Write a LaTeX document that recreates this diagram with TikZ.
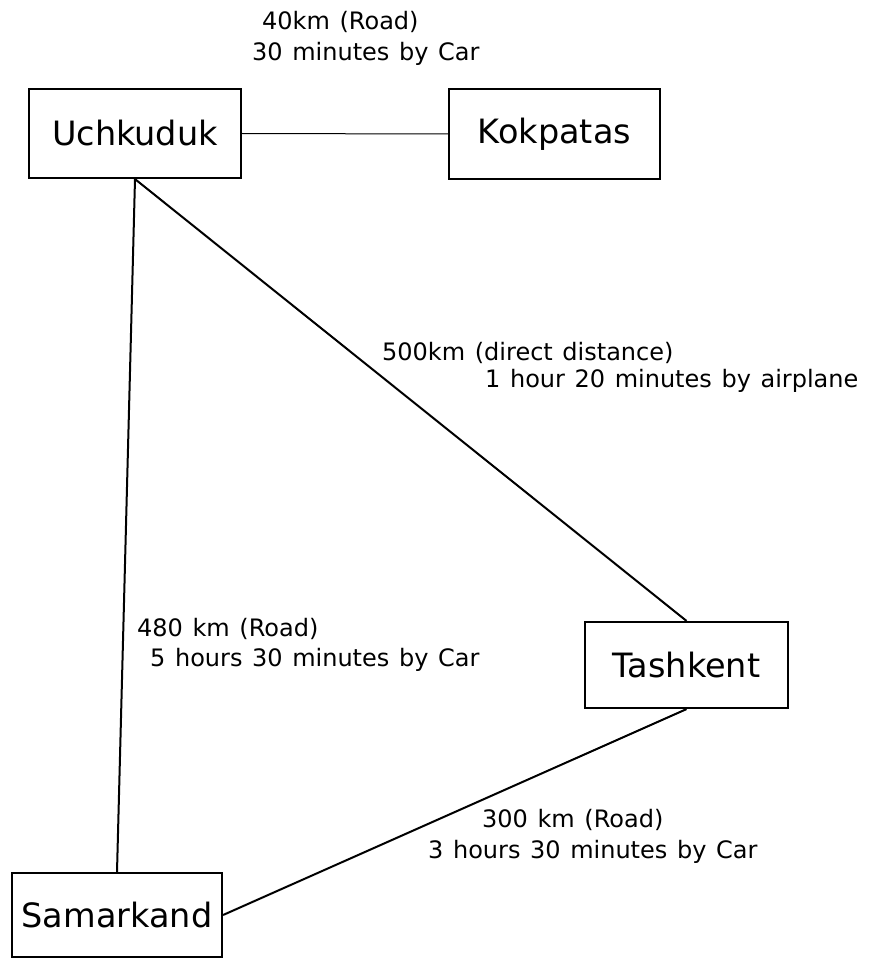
\documentclass[tikz,border=0pt]{standalone}
\usepackage{fontspec}
\setmainfont{DejaVu Sans}
\newcommand\distfont{\fontsize{24}{29}\selectfont\spaceskip=.4em plus .1em\relax}
\tikzset{
  town/.style={draw,line width=2.2pt,inner sep=0pt,font=\fontsize{33.5}{40}\selectfont},
  road/.style={line width=2pt},
  dist/.style={anchor=west,inner sep=0pt,font=\distfont},
}
\begin{document}
\begin{tikzpicture}[x=1pt,y=-1pt]
  \useasboundingbox (0,0) rectangle (872,960);
  \node[town,minimum width=212pt,minimum height=89pt] (uchkuduk) at (135,133.5) {Uchkuduk};
  \node[town,minimum width=211pt,minimum height=90pt] (kokpatas) at (554.5,134) {Kokpatas};
  \node[town,minimum width=203pt,minimum height=86pt] (tashkent) at (686.5,665) {Tashkent};
  \node[town,minimum width=210pt,minimum height=84pt] (samarkand) at (117,915) {Samarkand};
  \draw[line width=1pt] (uchkuduk.east) -- (kokpatas.west);
  \draw[road] (uchkuduk.south) -- (samarkand.north);
  \draw[road] (uchkuduk.south) -- (tashkent.north);
  \draw[road] (tashkent.south) -- (samarkand.east);
  \node[dist] (roadUK) at (262,22) {40km (Road)};
  \node[dist] (timeUK) at (252,54) {30 minutes by Car};
  \node[dist] (directUT) at (382,353) {500km (direct distance)};
  \node[dist] (timeUT) at (485,381) {1 hour 20 minutes by airplane};
  \node[dist] (roadUS) at (137,629) {480 km (Road)};
  \node[dist] (timeUS) at (150,660) {5 hours 30 minutes by Car};
  \node[dist] (roadTS) at (482,820) {300 km (Road)};
  \node[dist] (timeTS) at (428,852) {3 hours 30 minutes by Car};
\end{tikzpicture}
\end{document}
